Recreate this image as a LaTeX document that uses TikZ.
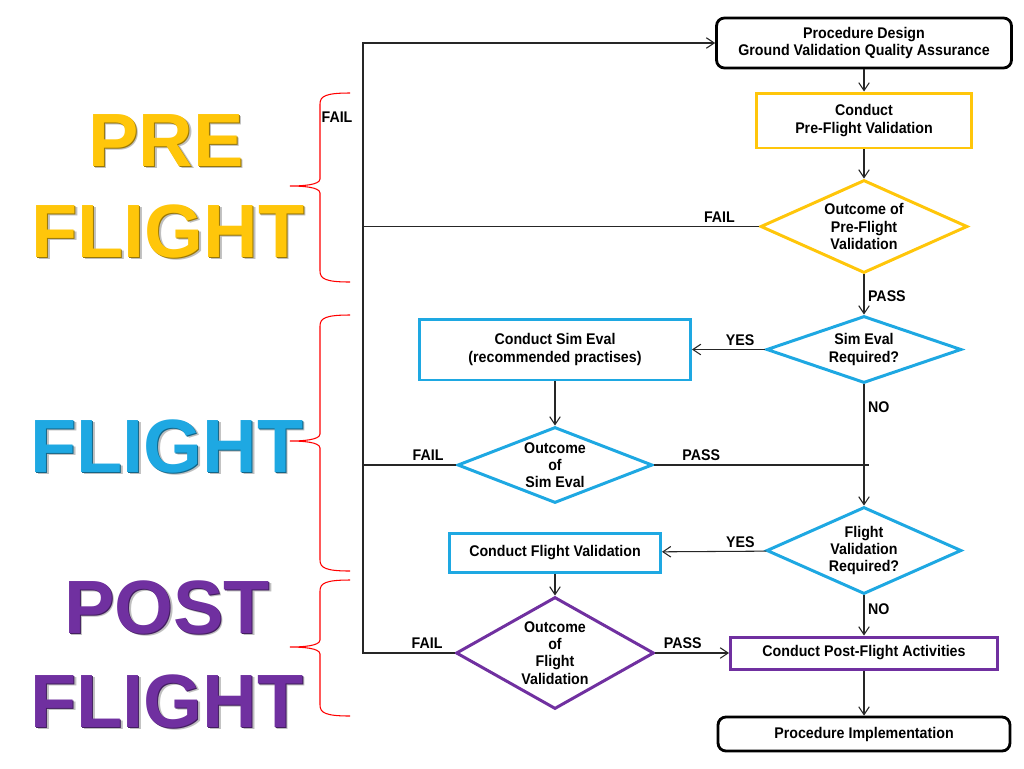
\documentclass[tikz,border=0pt]{standalone}
\usepackage{fontspec}
\setmainfont{Liberation Sans}
\newfontfamily\narrowfam[FakeStretch=0.92]{Liberation Sans}
\usetikzlibrary{shapes.geometric,arrows.meta}

\definecolor{preyellow}{RGB}{255,198,10}
\definecolor{flightblue}{RGB}{30,168,226}
\definecolor{postpurple}{RGB}{112,48,160}

\newcommand{\flowfont}{\narrowfam\fontsize{8.8}{9.8}\selectfont\bfseries}

\tikzset{
  procbox/.style={rectangle, draw, line width=1.7pt, inner sep=0pt, align=center, font=\flowfont},
  endbox/.style={procbox, rounded corners=4.5pt, line width=1.6pt},
  decision/.style={diamond, draw, line width=1.7pt, inner sep=0pt, align=center, font=\flowfont},
  lbl/.style={font=\flowfont, text=black, inner sep=2pt},
  phase/.style={font=\fontsize{43}{50}\selectfont\bfseries, anchor=base, inner sep=0pt},
  flow/.style={->, line width=0.6pt, black!85},
}

\begin{document}
\begin{tikzpicture}[x=0.02cm, y=-0.02cm, >={Straight Barb[length=4.5pt,width=6pt]}]
\useasboundingbox (0,0) rectangle (1024,768);

% Phasen links
\foreach \w/\x/\y/\c [count=\i] in {PRE/166/166/preyellow, FLIGHT/168/257/preyellow, FLIGHT/167/472/flightblue, POST/167/633/postpurple, FLIGHT/167/727/postpurple}{
  \node[phase, text=black!50, opacity=.5] (phase\i s) at (\x+2.5,\y+2.5) {\w};
  \node[phase, text=\c!60!black] (phase\i e) at (\x+1,\y+1) {\w};
  \node[phase, text=\c] (phase\i) at (\x,\y) {\w};
}

% Klammern
\foreach \t/\m/\b in {93/186/282, 315/441/571, 580/647/716}
  \draw[red, line width=0.6pt] (350,\t) .. controls (326,\t) and (320,\t+3) .. (320,\t+11) -- (320,\m-7)
    .. controls (320,\m-1) and (302,\m) .. (290,\m) .. controls (302,\m) and (320,\m+1) .. (320,\m+7)
    -- (320,\b-11) .. controls (320,\b-3) and (326,\b) .. (350,\b);

% Ablauf rechts
\node[endbox, minimum width=5.9cm, minimum height=1cm] (design) at (864,43) {Procedure Design\\Ground Validation Quality Assurance};
\node[procbox, draw=preyellow, minimum width=4.3cm, minimum height=1.1cm] (pre) at (864,120.5) {Conduct\\Pre-Flight Validation};
\node[decision, draw=preyellow, aspect=2.2, minimum width=4.14cm, minimum height=1.86cm] (out1) at (864,226.5) {Outcome of\\Pre-Flight\\Validation};
\node[decision, draw=flightblue, aspect=2.9, minimum width=3.9cm, minimum height=1.34cm] (simreq) at (864,349.5) {Sim Eval\\Required?};
\node[decision, draw=flightblue, aspect=2.24, minimum width=3.9cm, minimum height=1.74cm] (flreq) at (864,550.5) {Flight\\Validation\\Required?};
\node[procbox, draw=postpurple, minimum width=5.34cm, minimum height=0.64cm] (post) at (864,653) {Conduct Post-Flight Activities};
\node[endbox, minimum width=5.84cm, minimum height=0.68cm] (impl) at (864,734) {Procedure Implementation};

% Ablauf links
\node[procbox, draw=flightblue, minimum width=5.42cm, minimum height=1.22cm] (simbox) at (555,349.5) {Conduct Sim Eval\\(recommended practises)};
\node[decision, draw=flightblue, aspect=2.6, minimum width=3.9cm, minimum height=1.52cm] (simout) at (555,465) {Outcome\\of\\Sim Eval};
\node[procbox, draw=flightblue, minimum width=4.22cm, minimum height=0.78cm] (flbox) at (555,552.5) {Conduct Flight Validation};
\node[decision, draw=postpurple, aspect=1.77, minimum width=3.96cm, minimum height=2.24cm] (flout) at (555,653) {Outcome\\of\\Flight\\Validation};

% Pfeile
\draw[flow] (design) -- (pre);
\draw[flow] (pre) -- (out1);
\draw[flow] (out1) -- node[lbl, right, pos=.55] (passA) {PASS} (simreq);
\draw[flow] (simreq) -- node[lbl, above, pos=.34] (yesA) {YES} (simbox);
\draw[flow] (simbox) -- (simout);
\draw[flow] (simreq) -- node[lbl, right, pos=.19] (noA) {NO} (flreq);
\draw[flow] (flreq) -- node[lbl, above, pos=.25] (yesB) {YES} (flbox);
\draw[flow] (flbox) -- (flout);
\draw[flow] (flreq) -- node[lbl, right, pos=.35] (noB) {NO} (post);
\draw[flow] (flout) -- node[lbl, above, pos=.37] (passC) {PASS} (post);
\draw[flow] (post) -- (impl);

% Ruecklauf
\coordinate (fb) at (363,653);
\coordinate (ft) at (363,43);
\coordinate (pj) at (869,465);
\draw[flow] (flout.west) -- node[lbl, above, pos=.3] (failD) {FAIL} (fb) -- (ft) -- (design.west);
\draw[flow, -] (simout.west) -- node[lbl, above, pos=.3] (failC) {FAIL} (simout.west -| fb);
\draw[flow, -] (out1.west) -- node[lbl, above, pos=.1] (failB) {FAIL} (out1.west -| fb);
\draw[flow, -] (simout.east) -- node[lbl, above, pos=.22] (passB) {PASS} (pj);
\node[lbl] (failA) at (337,117) {FAIL};
\end{tikzpicture}
\end{document}
